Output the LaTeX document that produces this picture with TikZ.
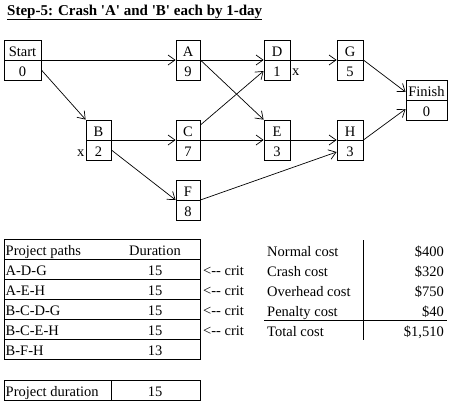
\documentclass[tikz,border=0pt]{standalone}
\usepackage{fontspec}
\setmainfont{Liberation Serif}
\usetikzlibrary{arrows.meta}
\begin{document}
\begin{tikzpicture}[x=1pt,y=-1pt,
  font=\fontsize{14.5}{16}\selectfont,
  every node/.style={inner sep=0pt},
  box/.style={draw, line width=0.8pt, minimum height=40pt, minimum width=25pt,
    path picture={\draw[line width=0.8pt] (path picture bounding box.west) -- (path picture bounding box.east);}},
  lbl/.style={anchor=base},
  conn/.style={line width=0.7pt, -{Straight Barb[length=7pt,width=10pt,line width=0.7pt]}},
  rowbox/.style={draw, line width=0.8pt, minimum width=196pt, minimum height=20pt, anchor=north west},
  ln/.style={line width=0.8pt}]
\useasboundingbox (0,0) rectangle (471,407);

% title
\node[anchor=base west, font=\fontsize{15}{16}\selectfont\bfseries] (title) at (7,15)
  {\underline{Step-5: Crash \textquotesingle A\textquotesingle{} and \textquotesingle B\textquotesingle{} each by 1-day}};

% boxes
\node[box, minimum width=37pt] (Start) at (22.5,60) {};
\node[box, minimum width=24pt] (A) at (188,60) {};
\node[box, minimum width=26pt] (D) at (277,60) {};
\node[box, minimum width=26pt] (G) at (350,60) {};
\node[box, minimum width=41pt] (Finish) at (426.5,100) {};
\node[box, minimum width=25pt] (B) at (98.5,140) {};
\node[box, minimum width=24pt] (C) at (188,140) {};
\node[box, minimum width=26pt] (E) at (277,140) {};
\node[box, minimum width=26pt] (H) at (350,140) {};
\node[box, minimum width=24pt] (F) at (188,200) {};

\foreach \n/\t/\v in {Start/Start/0, A/A/9, D/D/1, G/G/5, Finish/Finish/0, B/B/2, C/C/7, E/E/3, H/H/3, F/F/8}{
  \node[lbl] (\n t) at ([yshift=3.5pt]\n.center) {\t};
  \node[lbl] (\n v) at ([yshift=-16pt]\n.center) {\v};
}
\node[anchor=base west] (xD) at (292,75.5) {x};
\node[anchor=base west] (xB) at (77,156) {x};

% connectors
\draw[conn] (Start.east) -- (A.west);
\draw[conn] ([yshift=-10pt]Start.east) -- (B.north west);
\draw[conn] (A.east) -- (D.west);
\draw[conn] (A.east) -- (E.north west);
\draw[conn] ([yshift=15pt]C.east) -- ([yshift=-11pt]D.west);
\draw[conn] (B.east) -- (C.west);
\draw[conn] (C.east) -- (E.west);
\draw[conn] ([yshift=-10pt]B.east) -- (F.west);
\draw[conn] (E.east) -- (H.west);
\draw[conn] (F.east) -- ([yshift=-12pt]H.west);
\draw[conn] (D.east) -- (G.west);
\draw[conn] (G.east) -- ([yshift=8pt]Finish.west);
\draw[conn] (H.east) -- ([yshift=-9pt]Finish.west);

% paths table
\foreach \i/\p/\d in {0/Project paths/Duration, 1/A-D-G/15, 2/A-E-H/15, 3/B-C-D-G/15, 4/B-C-E-H/15, 5/B-F-H/13}{
  \node[rowbox] (row\i) at (4,239+20*\i) {};
  \node[anchor=base west] (p\i) at (5.5,255.5+20*\i) {\p};
  \node[anchor=base] (d\i) at (155,255.5+20*\i) {\d};
}
\foreach \i in {1,2,3,4}{
  \node[anchor=base west] (crit\i) at (203,255.5+20*\i) {<-{}- crit};
}

% project duration
\node[rowbox] (pd) at (4,380) {};
\draw[ln] (111,380) -- (111,400);
\node[anchor=base west] (pdl) at (5.5,396.5) {Project duration};
\node[anchor=base] (pdv) at (155,396.5) {15};

% cost table
\foreach \i/\l/\v in {0/Normal cost/{\$400}, 1/Crash cost/{\$320}, 2/Overhead cost/{\$750}, 3/Penalty cost/{\$40}, 4/Total cost/{\$1,510}}{
  \node[anchor=base west] (cl\i) at (267,256.5+20*\i) {\l};
  \node[anchor=base east] (cv\i) at (444,256.5+20*\i) {\v};
}
\draw[ln] (363,240) -- (363,340);
\draw[ln] (264,320) -- (447,320);
\end{tikzpicture}
\end{document}
